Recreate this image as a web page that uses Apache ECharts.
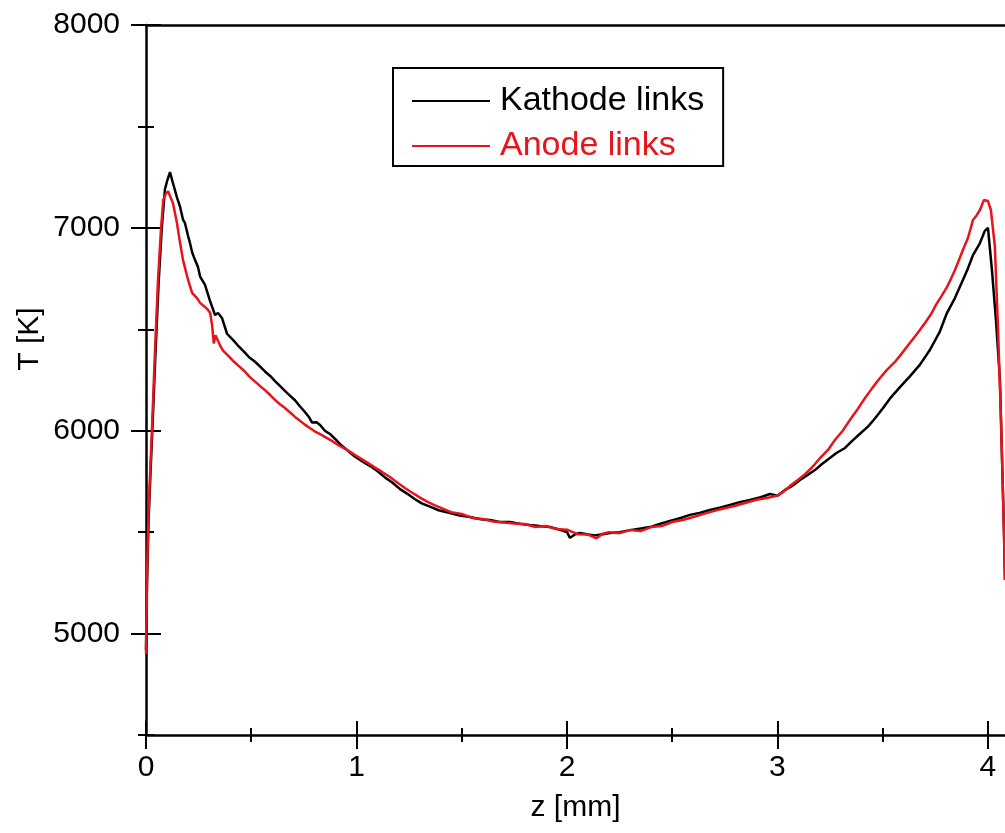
<!DOCTYPE html>
<html><head><meta charset="utf-8">
<script src="https://cdn.jsdelivr.net/npm/echarts@6/dist/echarts.min.js"></script>
<style>html,body{margin:0;padding:0;background:#fff}#c{width:1005px;height:833px}</style>
</head><body><div id="c"></div>
<script>
// Kathode links (black)
const kathodeZ = [0, 0.005, 0.012, 0.02, 0.03, 0.045, 0.06, 0.075, 0.09, 0.1, 0.114, 0.128, 0.147, 0.162, 0.176, 0.185, 0.2, 0.209, 0.219, 0.233, 0.247, 0.257, 0.28, 0.304, 0.318, 0.328, 0.342, 0.361, 0.385, 0.413, 0.437, 0.47, 0.49, 0.518, 0.54, 0.565, 0.59, 0.613, 0.635, 0.66, 0.685, 0.708, 0.73, 0.755, 0.775, 0.789, 0.81, 0.827, 0.85, 0.874, 0.9, 0.922, 0.945, 0.969, 0.99, 1.017, 1.045, 1.074, 1.1, 1.135, 1.17, 1.207, 1.24, 1.278, 1.31, 1.349, 1.39, 1.444, 1.49, 1.539, 1.59, 1.634, 1.68, 1.729, 1.78, 1.824, 1.87, 1.919, 1.967, 2.0, 2.014, 2.04, 2.062, 2.1, 2.133, 2.17, 2.204, 2.25, 2.299, 2.35, 2.394, 2.44, 2.489, 2.54, 2.584, 2.63, 2.679, 2.73, 2.774, 2.82, 2.869, 2.92, 2.964, 3.0, 3.036, 3.07, 3.107, 3.14, 3.178, 3.21, 3.249, 3.28, 3.321, 3.355, 3.392, 3.43, 3.463, 3.5, 3.534, 3.582, 3.629, 3.677, 3.724, 3.772, 3.805, 3.843, 3.881, 3.905, 3.929, 3.962, 3.985, 4.0, 4.019, 4.038, 4.057, 4.076, 4.081];
const kathodeT = [4920, 5250, 5550, 5760, 6000, 6380, 6730, 7000, 7190, 7230, 7275, 7221, 7150, 7103, 7040, 7024, 6960, 6925, 6880, 6841, 6807, 6760, 6720, 6640, 6600, 6570, 6580, 6556, 6478, 6448, 6420, 6385, 6362, 6340, 6318, 6292, 6270, 6245, 6222, 6196, 6172, 6150, 6122, 6092, 6066, 6040, 6042, 6028, 6000, 5984, 5958, 5934, 5914, 5892, 5874, 5856, 5838, 5820, 5800, 5770, 5745, 5712, 5690, 5662, 5642, 5626, 5608, 5594, 5582, 5575, 5564, 5560, 5550, 5550, 5540, 5535, 5530, 5525, 5512, 5500, 5472, 5490, 5496, 5488, 5484, 5490, 5496, 5500, 5510, 5518, 5525, 5540, 5555, 5570, 5585, 5595, 5609, 5622, 5634, 5648, 5659, 5672, 5688, 5680, 5708, 5728, 5757, 5780, 5806, 5835, 5865, 5890, 5915, 5950, 5985, 6020, 6060, 6110, 6158, 6215, 6268, 6326, 6398, 6490, 6580, 6654, 6743, 6800, 6866, 6925, 6985, 7000, 6792, 6546, 6250, 5510, 5264];
// Anode links (red)
const anodeZ = [0, 0.005, 0.012, 0.02, 0.03, 0.043, 0.057, 0.071, 0.082, 0.095, 0.105, 0.128, 0.147, 0.162, 0.176, 0.2, 0.219, 0.242, 0.257, 0.28, 0.295, 0.305, 0.314, 0.322, 0.33, 0.337, 0.352, 0.366, 0.39, 0.413, 0.437, 0.47, 0.49, 0.518, 0.54, 0.565, 0.59, 0.613, 0.635, 0.66, 0.685, 0.708, 0.73, 0.755, 0.78, 0.803, 0.825, 0.85, 0.875, 0.898, 0.92, 0.945, 0.97, 0.993, 1.015, 1.04, 1.065, 1.088, 1.12, 1.159, 1.195, 1.23, 1.265, 1.302, 1.34, 1.373, 1.41, 1.45, 1.5, 1.55, 1.6, 1.65, 1.7, 1.75, 1.8, 1.85, 1.9, 1.95, 2.0, 2.05, 2.1, 2.14, 2.17, 2.2, 2.25, 2.3, 2.35, 2.4, 2.45, 2.5, 2.55, 2.6, 2.65, 2.7, 2.75, 2.8, 2.85, 2.9, 2.95, 3.0, 3.03, 3.059, 3.1, 3.131, 3.165, 3.202, 3.24, 3.273, 3.31, 3.344, 3.38, 3.416, 3.45, 3.487, 3.52, 3.558, 3.59, 3.629, 3.665, 3.701, 3.73, 3.753, 3.78, 3.805, 3.825, 3.843, 3.862, 3.881, 3.905, 3.929, 3.945, 3.962, 3.981, 4.0, 4.014, 4.033, 4.048, 4.062, 4.076, 4.081];
const anodeT = [4900, 5300, 5600, 5800, 6050, 6400, 6743, 6990, 7137, 7170, 7180, 7122, 7024, 6925, 6841, 6743, 6679, 6654, 6630, 6610, 6595, 6580, 6520, 6430, 6470, 6455, 6420, 6395, 6370, 6345, 6322, 6292, 6268, 6242, 6222, 6200, 6176, 6152, 6132, 6112, 6090, 6068, 6050, 6030, 6012, 5996, 5984, 5970, 5955, 5940, 5925, 5912, 5896, 5880, 5866, 5850, 5834, 5818, 5798, 5772, 5744, 5718, 5694, 5670, 5648, 5632, 5616, 5598, 5590, 5570, 5565, 5552, 5548, 5542, 5540, 5525, 5530, 5515, 5512, 5490, 5488, 5470, 5492, 5500, 5495, 5510, 5505, 5525, 5530, 5550, 5560, 5575, 5590, 5605, 5618, 5630, 5645, 5660, 5668, 5680, 5700, 5727, 5760, 5786, 5820, 5865, 5905, 5954, 6000, 6053, 6105, 6161, 6210, 6260, 6300, 6339, 6380, 6432, 6480, 6531, 6575, 6620, 6665, 6708, 6750, 6792, 6840, 6891, 6950, 7039, 7060, 7088, 7137, 7132, 7088, 6906, 6496, 6053, 5510, 5264];

const xMajorTicks = [0, 1, 2, 3, 4];
const xMinorTicks = [0.5, 1.5, 2.5, 3.5];
const yMajorTicks = [5000, 6000, 7000, 8000];
const yMinorTicks = [4500, 5500, 6500, 7500];
const seriesNames = ['Kathode links', 'Anode links'];
const seriesColors = ['#000000', '#e8141c'];

const FONT = "'Liberation Sans', Arial, Helvetica, sans-serif";
const X_MIN = 0, X_MAX = 4.081, Y_MIN = 4500, Y_MAX = 8000;
const plain = v => String(v);

function tickAxis(kind, pos, values, len, inside, extra) {
  const a = {
    type: 'value', position: pos,
    min: kind === 'x' ? X_MIN : Y_MIN, max: kind === 'x' ? X_MAX : Y_MAX,
    splitLine: { show: false },
    axisLine: { show: false, onZero: false },
    axisLabel: { show: false },
    axisTick: { show: true, inside: inside, length: len, customValues: values,
                lineStyle: { color: '#000', width: 2 } }
  };
  return Object.assign(a, extra || {});
}

const chart = echarts.init(document.getElementById('c'), null, { renderer: 'canvas' });

const xAxes = [
  tickAxis('x', 'bottom', xMajorTicks, 14, false, {
    axisLine: { show: true, onZero: false, lineStyle: { color: '#000', width: 2.5 } },
    axisLabel: { show: true, customValues: xMajorTicks, formatter: plain, color: '#000', fontSize: 30, fontFamily: FONT, margin: 18 },
    name: 'z [mm]', nameLocation: 'middle', nameGap: 58,
    nameTextStyle: { color: '#000', fontSize: 30, fontFamily: FONT }
  }),
  tickAxis('x', 'bottom', xMajorTicks, 14, true),
  tickAxis('x', 'bottom', xMinorTicks, 7, false),
  tickAxis('x', 'bottom', xMinorTicks, 7, true),
  {
    type: 'value', position: 'top', min: X_MIN, max: X_MAX,
    splitLine: { show: false }, axisTick: { show: false }, axisLabel: { show: false },
    axisLine: { show: true, onZero: false, lineStyle: { color: '#000', width: 2.5 } }
  }
];
const yAxes = [
  tickAxis('y', 'left', yMajorTicks, 15, false, {
    axisLine: { show: true, onZero: false, lineStyle: { color: '#000', width: 2.5 } },
    axisLabel: { show: true, customValues: yMajorTicks, formatter: plain, color: '#000', fontSize: 30, fontFamily: FONT, margin: 26 }
  }),
  tickAxis('y', 'left', yMajorTicks, 15, true),
  tickAxis('y', 'left', yMinorTicks, 8, false),
  tickAxis('y', 'left', yMinorTicks, 8, true)
];

function zip(xs, ys) { return xs.map((x, i) => [x, ys[i]]); }

chart.setOption({
  animation: false,
  backgroundColor: '#fff',
  grid: { left: 146, top: 25, right: 0, bottom: 98, containLabel: false },
  xAxis: xAxes,
  yAxis: yAxes,
  legend: {
    left: 393, top: 68, orient: 'vertical',
    icon: 'rect',
    data: [
      { name: seriesNames[0], textStyle: { color: seriesColors[0] } },
      { name: seriesNames[1], textStyle: { color: seriesColors[1] } }
    ],
    itemWidth: 78, itemHeight: 2, itemGap: 11,
    padding: [16, 19, 3, 19],
    borderColor: '#000', borderWidth: 2, backgroundColor: '#fff',
    textStyle: { fontSize: 34, fontFamily: FONT, lineHeight: 34, padding: [0, 0, 0, 5] }
  },
  graphic: [{
    type: 'text', x: 30, y: 339, rotation: Math.PI / 2,
    style: { text: 'T [K]', fontSize: 30, fontFamily: FONT, fill: '#000', textAlign: 'center', textVerticalAlign: 'middle' }
  }],
  series: [
    { name: seriesNames[0], type: 'line', symbol: 'none', showSymbol: false, xAxisIndex: 0, yAxisIndex: 0,
      lineStyle: { color: seriesColors[0], width: 2.5 }, itemStyle: { color: seriesColors[0] },
      data: zip(kathodeZ, kathodeT) },
    { name: seriesNames[1], type: 'line', symbol: 'none', showSymbol: false, xAxisIndex: 0, yAxisIndex: 0,
      lineStyle: { color: seriesColors[1], width: 2.5 }, itemStyle: { color: seriesColors[1] },
      data: zip(anodeZ, anodeT) }
  ]
});
</script></body></html>
